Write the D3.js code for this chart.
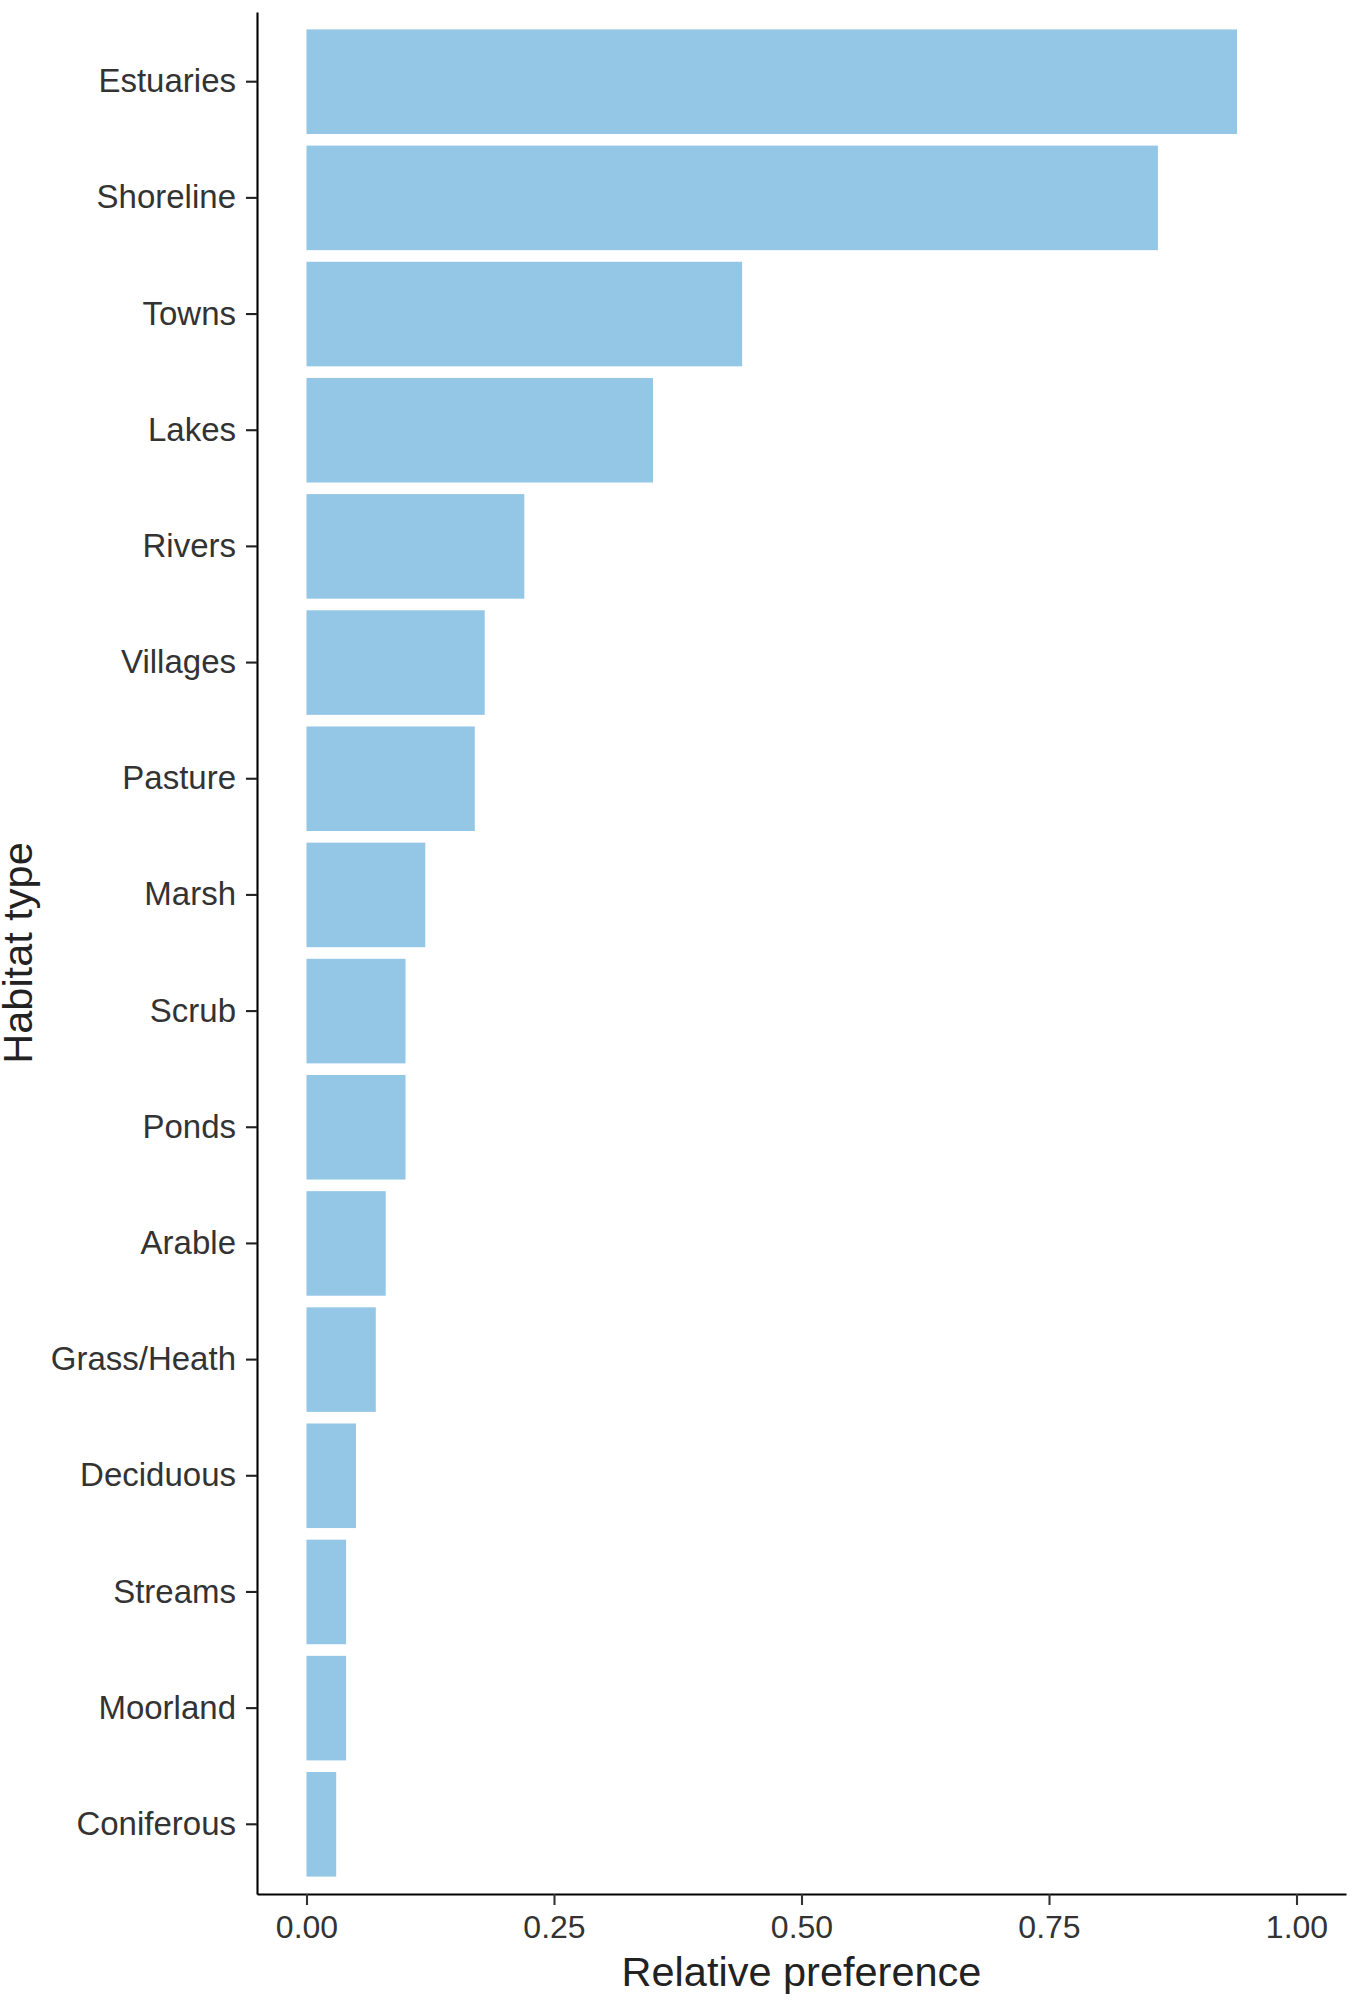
<!DOCTYPE html>
<html>
<head>
<meta charset="utf-8">
<script src="https://cdn.jsdelivr.net/npm/d3@7"></script>
<style>
  body { margin: 0; background: #fff; }
  svg { display: block; }
  text { font-family: "Liberation Sans", Arial, sans-serif; }
</style>
</head>
<body>
<svg id="chart" width="1358" height="2007"></svg>
<script>
// habitat types, top to bottom
var habitats = ['Estuaries', 'Shoreline', 'Towns', 'Lakes', 'Rivers', 'Villages',
    'Pasture', 'Marsh', 'Scrub', 'Ponds', 'Arable', 'Grass/Heath', 'Deciduous',
    'Streams', 'Moorland', 'Coniferous'];
var preference = [0.94, 0.86, 0.44, 0.35, 0.22, 0.18, 0.17, 0.12, 0.10, 0.10,
    0.08, 0.07, 0.05, 0.04, 0.04, 0.03];
var xTicks = [0, 0.25, 0.5, 0.75, 1];

var width = 1358, height = 2007;
var margin = {top: 12, right: 12, bottom: 113, left: 257};

var svg = d3.select('#chart');

var x = d3.scaleLinear()
    .domain([-0.05, 1.05])
    .range([margin.left, width - margin.right]);

var y = d3.scaleBand()
    .domain(habitats)
    .range([margin.top, height - margin.bottom])
    .paddingInner(0.1)
    .paddingOuter(0.15);

var data = habitats.map(function(h, i) {
    return {habitat: h, value: preference[i]};
});

svg.append('g')
    .selectAll('rect')
    .data(data)
    .join('rect')
    .attr('x', x(0))
    .attr('y', function(d) { return y(d.habitat); })
    .attr('width', function(d) { return x(d.value) - x(0); })
    .attr('height', y.bandwidth())
    .attr('fill', '#94c6e6');

// y axis
var yAxis = svg.append('g')
    .attr('transform', 'translate(' + margin.left + ',0)')
    .call(d3.axisLeft(y).tickSizeInner(11).tickSizeOuter(0).tickPadding(10));
yAxis.select('.domain').attr('stroke', '#000').attr('stroke-width', 2.1);
yAxis.selectAll('.tick line').attr('stroke', '#222').attr('stroke-width', 2.1);
yAxis.selectAll('.tick text')
    .attr('fill', '#333')
    .style('font-size', '33px');

// x axis
var xAxis = svg.append('g')
    .attr('transform', 'translate(0,' + (height - margin.bottom) + ')')
    .call(d3.axisBottom(x).tickValues(xTicks).tickFormat(d3.format('.2f'))
        .tickSizeInner(11).tickSizeOuter(0).tickPadding(10));
xAxis.select('.domain').attr('stroke', '#000').attr('stroke-width', 2.1);
xAxis.selectAll('.tick line').attr('stroke', '#333').attr('stroke-width', 2.1);
xAxis.selectAll('.tick text')
    .attr('fill', '#333')
    .style('font-size', '32px');

// axis titles
svg.append('text')
    .attr('x', (margin.left + width - margin.right) / 2)
    .attr('y', 1986)
    .attr('text-anchor', 'middle')
    .attr('fill', '#222')
    .style('font-size', '41.5px')
    .text('Relative preference');

svg.append('text')
    .attr('transform', 'translate(32,' + ((margin.top + height - margin.bottom) / 2) + ') rotate(-90)')
    .attr('text-anchor', 'middle')
    .attr('fill', '#222')
    .style('font-size', '41.5px')
    .text('Habitat type');
</script>
</body>
</html>
